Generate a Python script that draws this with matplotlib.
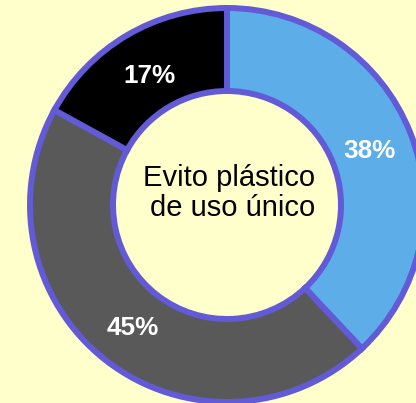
import matplotlib
matplotlib.use("Agg")
from matplotlib import pyplot as plt

# donut data (clockwise from 12 o'clock)
labels = ["Siempre", "A veces", "Nunca"]
values = [38, 45, 17]
colors = ["#5DAEE8", "#595959", "#000000"]
center_text = "Evito plástico\nde uso único"

bg = "#FFFFCC"
edge = "#625AD6"

plt.rcParams["font.family"] = ["Liberation Sans", "DejaVu Sans"]

fig = plt.figure(figsize=(4.16, 4.03), dpi=100, facecolor=bg)
ax = fig.add_axes([0, 0, 1, 1])
ax.set_facecolor(bg)

cx, cy = 227, 198
r_out = 197
ring = 83

wedges, texts, autotexts = ax.pie(
    values,
    colors=colors,
    startangle=90,
    counterclock=False,
    center=(cx, cy),
    radius=r_out,
    autopct="%d%%",
    pctdistance=0.777,
    wedgeprops=dict(width=ring, edgecolor=edge, linewidth=4.3),
    textprops=dict(color="white", fontsize=18.8, fontweight="bold"),
)
# nudge labels down a little (va=center counts the descent)
for t in autotexts:
    x, y = t.get_position()
    t.set_position((x, y - 2.5))

ax.text(cx + 2, cy + 12, center_text, ha="center", va="center",
        multialignment="right", fontsize=21, color="black", linespacing=1.05)

ax.set_xlim(0, 416)
ax.set_ylim(0, 403)
ax.set_aspect("equal")
ax.axis("off")

plt.savefig("out.png", dpi=100, facecolor=bg)
